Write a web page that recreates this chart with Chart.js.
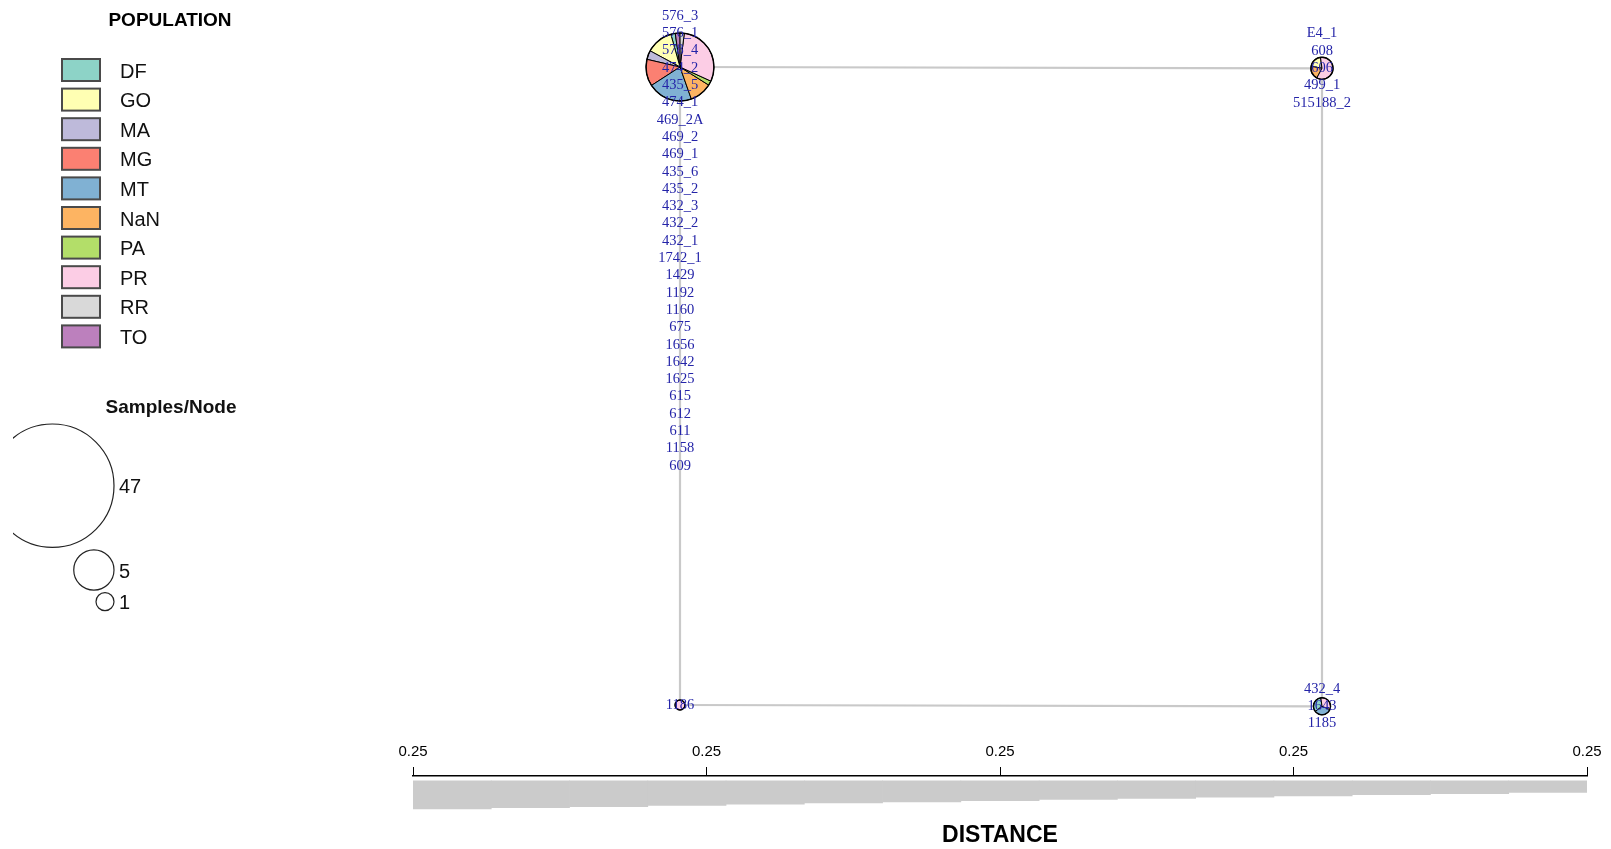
<!DOCTYPE html>
<html>
<head>
<meta charset="utf-8">
<script src="https://cdn.jsdelivr.net/npm/chart.js@4.4.1/dist/chart.umd.min.js"></script>
<style>
  html, body { margin: 0; padding: 0; background: #ffffff; }
  body { width: 1611px; height: 849px; position: relative; overflow: hidden; }
  #net { position: absolute; left: 0; top: 0; }
  #dist { position: absolute; left: 380px; top: 735px; }
</style>
</head>
<body>
<canvas id="net" width="1611" height="849"></canvas>
<canvas id="dist" width="1231" height="114"></canvas>
<script>
// Populations and their fill colours
const populations = ['DF', 'GO', 'MA', 'MG', 'MT', 'NaN', 'PA', 'PR', 'RR', 'TO'];
const popColors = ['#8DD3C7', '#FFFFB3', '#BEBADA', '#FB8072', '#80B1D3', '#FDB462', '#B3DE69', '#FCCDE5', '#D9D9D9', '#BC80BD'];

// Haplotype nodes: layout coordinates in the network
const nodeX = [0, 1, 0, 1];
const nodeY = [0, 0.002, 1, 1.002];

// Samples per population in each node (population order as above)
const nodeCounts = [
  [1, 6, 2, 6, 10, 5, 1, 14, 1, 1],
  [0, 1, 0, 0, 0, 1, 0, 3, 0, 0],
  [0, 0, 0, 0, 0, 0, 0, 1, 0, 0],
  [1, 0, 0, 0, 1, 0, 0, 1, 0, 0]
];

// Sample labels attached to each node
const nodeLabels = [
  ['576_3', '576_1', '578_4', '474_2', '435_5', '474_1', '469_2A', '469_2', '469_1', '435_6',
   '435_2', '432_3', '432_2', '432_1', '1742_1', '1429', '1192', '1160', '675', '1656',
   '1642', '1625', '615', '612', '611', '1158', '609'],
  ['E4_1', '608', '606', '499_1', '515188_2'],
  ['1186'],
  ['432_4', '1643', '1185']
];

// Network links (pairs of node indices)
const edges = [[0, 1], [0, 2], [1, 3], [2, 3]];

// Node-size key
const sizeKeyCounts = [47, 5, 1];

// Distance scale: tick labels and wedge depths
const distTickLabels = ['0.25', '0.25', '0.25', '0.25', '0.25'];
const wedgeDepth = [28.5, 27.3, 26.1, 24.9, 23.7, 22.5, 21.3, 20.1, 18.9, 17.7, 16.5, 15.3, 14.1, 12.9, 11.7];

// ---- styling ----
const SANS = "'Liberation Sans', Arial, sans-serif";
const SERIF = "'Liberation Serif', 'Times New Roman', serif";
const EDGE_COLOR = '#c9c9c9';
const LABEL_COLOR = '#2424a8';
const NODE_SCALE = 4.95;      // px per sqrt(sample)
const KEY_SCALE = 9;          // px per sqrt(sample) in the size key
const PIE_START_DEG = 98;     // first slice starts here, counter-clockwise
const LABEL_STEP = 17.3;
const LABEL_TOP = 16;

Chart.defaults.font.family = SANS;

const pieNodes = {
  id: 'pieNodes',
  afterDatasetsDraw(chart) {
    const { ctx } = chart;
    const xs = chart.scales.x, ys = chart.scales.y;
    ctx.save();
    // pies
    nodeCounts.forEach((counts, i) => {
      const cx = xs.getPixelForValue(nodeX[i]);
      const cy = ys.getPixelForValue(nodeY[i]);
      const total = counts.reduce((a, b) => a + b, 0);
      const r = NODE_SCALE * Math.sqrt(total);
      let a = -PIE_START_DEG * Math.PI / 180;
      ctx.lineWidth = 1;
      ctx.strokeStyle = '#000';
      counts.forEach((c, k) => {
        if (!c) return;
        const sweep = c / total * Math.PI * 2;
        ctx.beginPath();
        if (c === total) {
          ctx.arc(cx, cy, r, 0, Math.PI * 2);
        } else {
          ctx.moveTo(cx, cy);
          ctx.arc(cx, cy, r, a, a - sweep, true);
          ctx.closePath();
        }
        ctx.fillStyle = popColors[k];
        ctx.fill();
        ctx.stroke();
        a -= sweep;
      });
      ctx.beginPath();
      ctx.arc(cx, cy, r, 0, Math.PI * 2);
      ctx.lineWidth = 1.4;
      ctx.stroke();
    });
    // labels
    ctx.font = '14.5px ' + SERIF;
    ctx.fillStyle = LABEL_COLOR;
    ctx.textAlign = 'center';
    ctx.textBaseline = 'middle';
    nodeLabels.forEach((labels, i) => {
      const cx = xs.getPixelForValue(nodeX[i]);
      const cy = ys.getPixelForValue(nodeY[i]);
      let y0 = cy - (labels.length - 1) / 2 * LABEL_STEP;
      if (y0 < LABEL_TOP) y0 = LABEL_TOP;
      labels.forEach((t, j) => ctx.fillText(t, cx, y0 + j * LABEL_STEP));
    });
    ctx.restore();
  }
};

const keyLegend = {
  id: 'keyLegend',
  afterDraw(chart) {
    const { ctx } = chart;
    ctx.save();
    ctx.fillStyle = '#000';
    ctx.textBaseline = 'alphabetic';
    // population key
    ctx.font = 'bold 19px ' + SANS;
    ctx.textAlign = 'center';
    ctx.fillText('POPULATION', 170, 26);
    ctx.textAlign = 'left';
    ctx.font = '20px ' + SANS;
    populations.forEach((p, i) => {
      const top = 59 + i * 29.6;
      ctx.fillStyle = popColors[i];
      ctx.fillRect(62, top, 38, 22);
      ctx.strokeStyle = '#4a4a4a';
      ctx.lineWidth = 2;
      ctx.strokeRect(62, top, 38, 22);
      ctx.fillStyle = '#111';
      ctx.fillText(p, 120, top + 11 + 7.5);
    });
    // node-size key
    ctx.font = 'bold 19px ' + SANS;
    ctx.textAlign = 'center';
    ctx.fillText('Samples/Node', 171, 413);
    ctx.font = '20px ' + SANS;
    ctx.textAlign = 'left';
    let yTop = 424;
    const right = 114;
    sizeKeyCounts.forEach((n) => {
      const r = KEY_SCALE * Math.sqrt(n);
      const cy = yTop + r;
      ctx.save();
      ctx.beginPath();
      ctx.rect(13, 0, 1611, 849);
      ctx.clip();
      ctx.beginPath();
      ctx.arc(right - r, cy, r, 0, Math.PI * 2);
      ctx.strokeStyle = '#222';
      ctx.lineWidth = 1.2;
      ctx.stroke();
      ctx.restore();
      ctx.fillStyle = '#111';
      ctx.fillText(String(n), 119, cy + 7.5);
      yTop = cy + r + 2.5;
    });
    ctx.restore();
  }
};

new Chart(document.getElementById('net'), {
  type: 'scatter',
  data: {
    datasets: edges.map(([a, b]) => ({
      data: [{ x: nodeX[a], y: nodeY[a] }, { x: nodeX[b], y: nodeY[b] }],
      showLine: true,
      borderColor: EDGE_COLOR,
      borderWidth: 2.2,
      pointRadius: 0,
      clip: false
    }))
  },
  options: {
    responsive: false,
    animation: false,
    devicePixelRatio: 1,
    layout: { padding: { left: 680, right: 289, top: 67, bottom: 144 } },
    scales: {
      x: { type: 'linear', min: 0, max: 1, display: false },
      y: { type: 'linear', min: 0, max: 1, reverse: true, display: false }
    },
    plugins: { legend: { display: false }, tooltip: { enabled: false } }
  },
  plugins: [pieNodes, keyLegend]
});

new Chart(document.getElementById('dist'), {
  type: 'bar',
  data: {
    datasets: [{
      data: wedgeDepth.map((d, i) => ({ x: i + 0.5, y: [0, d] })),
      backgroundColor: '#cbcbcb',
      borderWidth: 0,
      barPercentage: 1,
      categoryPercentage: 1
    }]
  },
  options: {
    responsive: false,
    animation: false,
    devicePixelRatio: 1,
    layout: { padding: { left: 33, right: 24, top: 2, bottom: 0 } },
    scales: {
      x: {
        type: 'linear',
        position: 'top',
        offset: false,
        min: 0,
        max: wedgeDepth.length,
        afterBuildTicks: (s) => {
          s.ticks = distTickLabels.map((_, i) => ({ value: i * wedgeDepth.length / (distTickLabels.length - 1) }));
        },
        ticks: {
          callback: (v, i) => distTickLabels[i],
          color: '#000',
          font: { size: 15 },
          padding: 6,
          maxRotation: 0,
          autoSkip: false
        },
        grid: { offset: false, drawOnChartArea: false, drawTicks: true, tickLength: 9, color: '#000', lineWidth: 1 },
        border: { display: true, color: '#000', width: 1.5 }
      },
      y: { type: 'linear', min: -5, max: 41.2, reverse: true, display: false }
    },
    plugins: {
      legend: { display: false },
      tooltip: { enabled: false },
      title: {
        display: true,
        text: 'DISTANCE',
        position: 'bottom',
        fullSize: false,
        color: '#000',
        font: { size: 23, weight: 'bold' },
        padding: { top: 0, bottom: 0 }
      }
    }
  }
});
</script>
</body>
</html>
